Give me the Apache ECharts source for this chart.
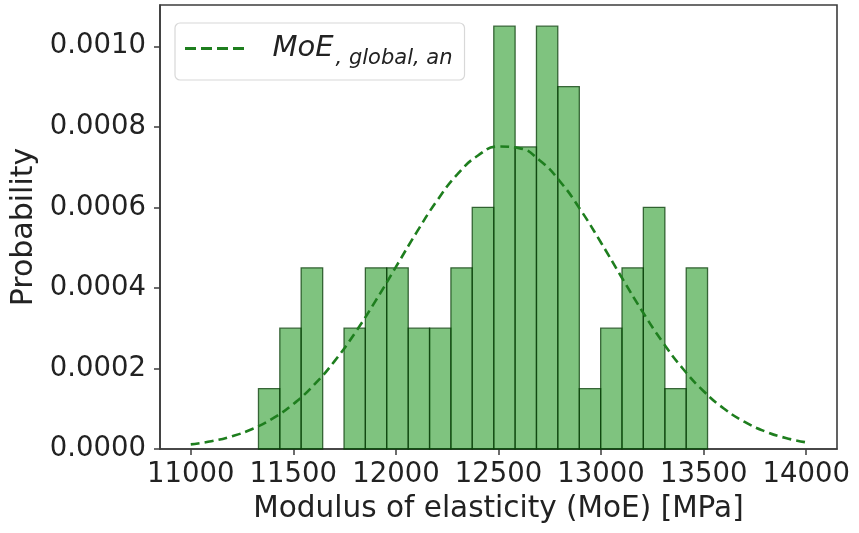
<!DOCTYPE html>
<html>
<head>
<meta charset="utf-8">
<script src="https://cdn.jsdelivr.net/npm/echarts@6/dist/echarts.min.js"></script>
<style>
  html, body { margin: 0; padding: 0; background: #fff; }
  #chart { width: 859px; height: 533px; }
</style>
</head>
<body>
<div id="chart"></div>
<script>
// Histogram bin edges [MPa]
const binEdges = [11330, 11434, 11538, 11643, 11747, 11851, 11955, 12060, 12164, 12268, 12372,
                  12477, 12581, 12685, 12789, 12894, 12998, 13102, 13206, 13311, 13415, 13519];
// Probability density of each bin
const binDensity = [0.00015, 0.0003, 0.00045, 0, 0.0003, 0.00045, 0.00045, 0.0003, 0.0003, 0.00045, 0.0006,
                    0.00105, 0.00075, 0.00105, 0.0009, 0.00015, 0.0003, 0.00045, 0.0006, 0.00015, 0.00045];

// Fitted normal distribution curve, MoE,global,an
const curveX = [11000, 11100, 11200, 11300, 11400, 11500, 11600, 11700, 11800, 11900, 12000,
                12100, 12200, 12300, 12400, 12500, 12600, 12700, 12800, 12900, 13000,
                13100, 13200, 13300, 13400, 13500, 13600, 13700, 13800, 13900, 14000];
const curveY = [0.0000114, 0.0000193, 0.0000315, 0.0000498, 0.0000760, 0.0001118, 0.0001588, 0.0002176, 0.0002878, 0.0003672, 0.0004522,
                0.0005374, 0.0006164, 0.0006823, 0.0007287, 0.0007511, 0.0007471, 0.0007171, 0.0006643, 0.0005938, 0.0005122,
                0.0004264, 0.0003426, 0.0002656, 0.0001987, 0.0001435, 0.0000999, 0.0000672, 0.0000436, 0.0000273, 0.0000165];

// Axis ticks
const xTicks = [11000, 11500, 12000, 12500, 13000, 13500, 14000];
const yTicks = [0, 0.0002, 0.0004, 0.0006, 0.0008, 0.0010];

const histData = binDensity.map((d, i) => [binEdges[i], binEdges[i + 1], d]);
const curveData = curveX.map((x, i) => [x, curveY[i]]);

const axisColor = '#3c3c3c';
const textColor = '#222';
const font = 'DejaVu Sans';
const curveColor = '#1e7e1e';
// four short dashes, used as the legend key of the dashed curve
const dashIcon = 'path://M0,0h11v3h-11z M16,0h11v3h-11z M32,0h11v3h-11z M48,0h11v3h-11z';

const chart = echarts.init(document.getElementById('chart'), null, { renderer: 'canvas' });
chart.setOption({
  animation: false,
  backgroundColor: '#fff',
  grid: {
    left: 160, right: 22, top: 5, bottom: 84,
    show: true, borderColor: axisColor, borderWidth: 1.6, backgroundColor: 'transparent'
  },
  legend: {
    data: [{ name: 'MoE,global,an', icon: dashIcon }],
    left: 175, top: 23,
    orient: 'horizontal',
    itemWidth: 60, itemHeight: 3, itemGap: 10,
    padding: [11, 12, 11, 10],
    borderColor: '#d8d8d8', borderWidth: 1.2, borderRadius: 5,
    backgroundColor: 'rgba(255,255,255,0.8)',
    formatter: () => '{m|MoE}{s|, global, an}',
    textStyle: {
      rich: {
        m: { fontFamily: font, fontStyle: 'italic', fontSize: 29, color: textColor, padding: [0, 2, 0, 23] },
        s: { fontFamily: font, fontStyle: 'italic', fontSize: 21, color: textColor, verticalAlign: 'bottom', padding: [0, 0, -6, 0] }
      }
    }
  },
  xAxis: {
    type: 'value',
    min: 10850, max: 14150,
    name: 'Modulus of elasticity (MoE) [MPa]',
    nameLocation: 'middle', nameGap: 38,
    nameTextStyle: { fontFamily: font, fontSize: 29.5, color: textColor },
    axisLine: { show: true, lineStyle: { color: axisColor, width: 1.6 } },
    axisTick: { show: true, length: 6, lineStyle: { color: axisColor, width: 1.5 }, customValues: xTicks },
    axisLabel: { fontFamily: font, fontSize: 27.5, color: textColor, margin: 12,
                 formatter: v => String(v), customValues: xTicks },
    splitLine: { show: false }
  },
  yAxis: {
    type: 'value',
    min: 0, max: 0.0011025,
    name: 'Probability',
    nameLocation: 'middle', nameGap: 117, nameRotate: 90,
    nameTextStyle: { fontFamily: font, fontSize: 30, color: textColor },
    axisLine: { show: true, lineStyle: { color: axisColor, width: 1.6 } },
    axisTick: { show: true, length: 6, lineStyle: { color: axisColor, width: 1.5 }, customValues: yTicks },
    axisLabel: { fontFamily: font, fontSize: 27.5, color: textColor, margin: 14,
                 formatter: v => v.toFixed(4), customValues: yTicks },
    splitLine: { show: false }
  },
  series: [
    {
      name: 'histogram',
      type: 'custom',
      data: histData,
      encode: { x: [0, 1], y: 2 },
      renderItem: (params, api) => {
        const h = api.value(2);
        if (h <= 0) return null;
        const p0 = api.coord([api.value(0), h]);
        const p1 = api.coord([api.value(1), 0]);
        return {
          type: 'rect',
          shape: { x: p0[0], y: p0[1], width: p1[0] - p0[0], height: p1[1] - p0[1] },
          style: { fill: 'rgba(0,135,0,0.5)', stroke: 'rgba(10,60,10,0.75)', lineWidth: 1.3 }
        };
      },
      z: 2
    },
    {
      name: 'MoE,global,an',
      type: 'line',
      data: curveData,
      smooth: true,
      symbol: 'none',
      lineStyle: { color: curveColor, width: 2.6, type: [9, 5] },
      itemStyle: { color: curveColor },
      z: 3
    }
  ]
});
</script>
</body>
</html>
